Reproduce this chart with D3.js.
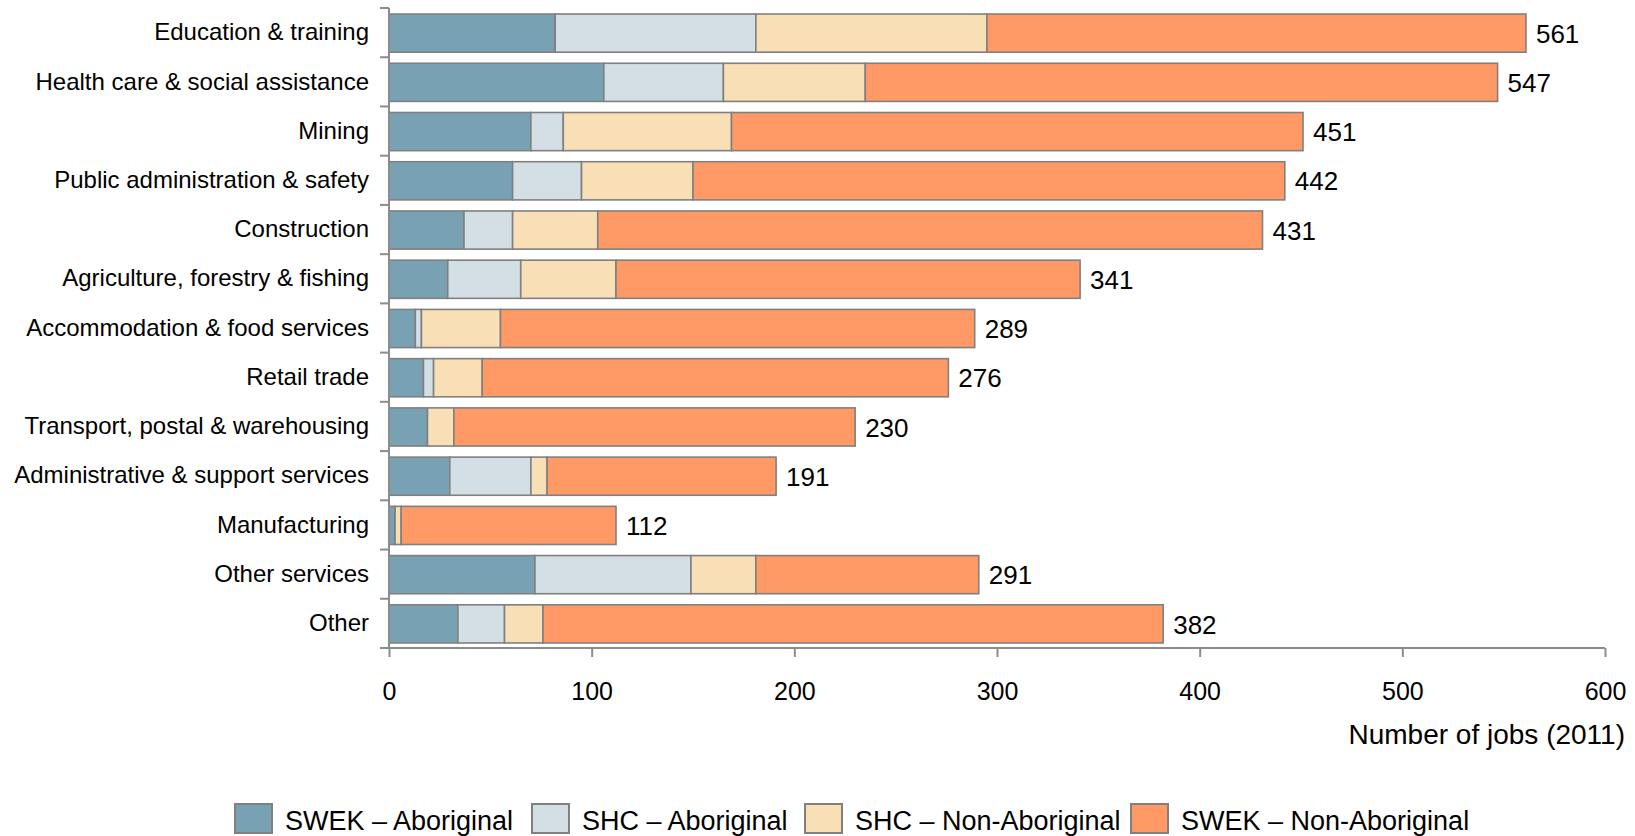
<!DOCTYPE html>
<html>
<head>
<meta charset="utf-8">
<script src="https://cdn.jsdelivr.net/npm/d3@7"></script>
<style>
  html, body { margin: 0; padding: 0; background: #fff; }
  svg { display: block; font-family: "Liberation Sans", Arial, sans-serif; }
</style>
</head>
<body>
<svg id="chart" width="1635" height="836"></svg>
<script>
const categories = [
  "Education & training",
  "Health care & social assistance",
  "Mining",
  "Public administration & safety",
  "Construction",
  "Agriculture, forestry & fishing",
  "Accommodation & food services",
  "Retail trade",
  "Transport, postal & warehousing",
  "Administrative & support services",
  "Manufacturing",
  "Other services",
  "Other"
];
const seriesNames = ["SWEK – Aboriginal", "SHC – Aboriginal", "SHC – Non-Aboriginal", "SWEK – Non-Aboriginal"];
const swekAboriginal    = [82, 106, 70, 61, 37, 29, 13, 17, 19, 30, 3, 72, 34];
const shcAboriginal     = [99, 59, 16, 34, 24, 36, 3, 5, 0, 40, 0, 77, 23];
const shcNonAboriginal  = [114, 70, 83, 55, 42, 47, 39, 24, 13, 8, 3, 32, 19];
const swekNonAboriginal = [266, 312, 282, 292, 328, 229, 234, 230, 198, 113, 106, 110, 306];
const totals            = [561, 547, 451, 442, 431, 341, 289, 276, 230, 191, 112, 291, 382];
const xTicks = [0, 100, 200, 300, 400, 500, 600];
const axisTitle = "Number of jobs (2011)";
const colors = ["#78a2b3", "#d4dfe5", "#f8dfb6", "#ff9966"];

(function () {
const seriesValues = [swekAboriginal, shcAboriginal, shcNonAboriginal, swekNonAboriginal];
const rows = categories.map((c, i) => {
  const r = { category: c, total: totals[i] };
  seriesNames.forEach((s, j) => r[s] = seriesValues[j][i]);
  return r;
});

const svg = d3.select("#chart");
const pLeft = 389, pRight = 1605, pTop = 8, pBottom = 648;

const x = d3.scaleLinear().domain([0, 600]).range([pLeft, pRight]);
const y = d3.scaleBand().domain(categories).range([pTop, pBottom]).paddingInner(0).paddingOuter(0);
const barFrac = 0.775;
const barH = y.bandwidth() * barFrac;
const barOff = y.bandwidth() * (1 - barFrac) / 2 + 0.5;

const stacked = d3.stack().keys(seriesNames)(rows);

const axisColor = "#8c8c8c";
const strokeColor = "#808080";

// bars
const g = svg.append("g");
stacked.forEach((layer, li) => {
  g.selectAll(null)
    .data(layer)
    .join("rect")
    .attr("x", d => x(d[0]))
    .attr("y", d => y(d.data.category) + barOff)
    .attr("width", d => Math.max(0, x(d[1]) - x(d[0])))
    .attr("height", barH)
    .attr("fill", colors[li])
    .attr("stroke", strokeColor)
    .attr("stroke-width", 1.6);
});

// value labels
svg.append("g").selectAll("text")
  .data(rows)
  .join("text")
  .attr("x", d => x(d.total) + 10)
  .attr("y", d => y(d.category) + barOff + barH / 2)
  .attr("dy", "0.37em")
  .attr("font-size", 26)
  .attr("fill", "#000")
  .text(d => d.total);

// y axis
const yAxis = svg.append("g").attr("transform", `translate(${pLeft},0)`)
  .call(d3.axisLeft(y).tickSize(0).tickPadding(20));
yAxis.select(".domain").remove();
yAxis.selectAll("text").attr("font-size", 24).attr("fill", "#000")
  .attr("font-family", "'Liberation Sans', Arial, sans-serif");
const boundaries = categories.map(c => y(c)).concat([pBottom]);
svg.append("g").selectAll("line").data(boundaries).join("line")
  .attr("x1", pLeft - 9).attr("x2", pLeft)
  .attr("y1", d => d).attr("y2", d => d)
  .attr("stroke", axisColor).attr("stroke-width", 2);
svg.append("line")
  .attr("x1", pLeft).attr("x2", pLeft).attr("y1", pTop).attr("y2", pBottom)
  .attr("stroke", axisColor).attr("stroke-width", 2);

// x axis
const xAxis = svg.append("g").attr("transform", `translate(0,${pBottom})`)
  .call(d3.axisBottom(x).tickValues(xTicks).tickSize(9).tickPadding(25).tickFormat(d3.format("d")));
xAxis.select(".domain").remove();
xAxis.selectAll(".tick line").attr("stroke", axisColor).attr("stroke-width", 2);
xAxis.selectAll("text").attr("font-size", 25).attr("fill", "#000")
  .attr("font-family", "'Liberation Sans', Arial, sans-serif");
svg.append("line")
  .attr("x1", pLeft - 9).attr("x2", pRight).attr("y1", pBottom).attr("y2", pBottom)
  .attr("stroke", axisColor).attr("stroke-width", 2);

svg.append("text")
  .attr("x", 1625).attr("y", 744)
  .attr("text-anchor", "end")
  .attr("font-size", 28)
  .attr("fill", "#000")
  .text(axisTitle);

// legend
const legendX = [235, 532, 805, 1131];
const lg = svg.append("g");
seriesNames.forEach((s, i) => {
  lg.append("rect")
    .attr("x", legendX[i]).attr("y", 804)
    .attr("width", 37).attr("height", 29)
    .attr("fill", colors[i])
    .attr("stroke", strokeColor).attr("stroke-width", 2);
  lg.append("text")
    .attr("x", legendX[i] + 50).attr("y", 830)
    .attr("font-size", 27).attr("fill", "#000")
    .text(s);
});
})();
</script>
</body>
</html>
